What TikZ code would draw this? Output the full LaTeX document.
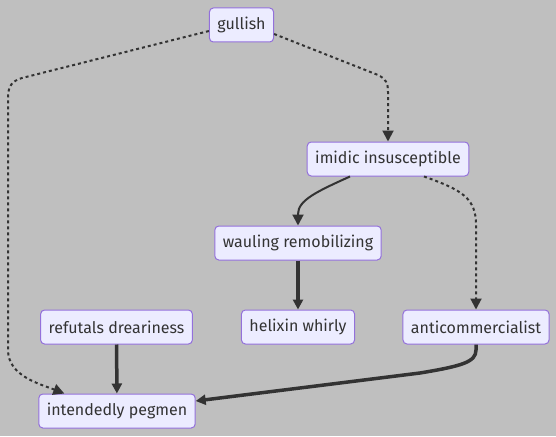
\documentclass[tikz,border=0pt]{standalone}
\usepackage{fontspec}
\setmainfont{Fira Sans}
\usetikzlibrary{arrows.meta}
\definecolor{bggray}{RGB}{191,191,191}
\definecolor{boxfill}{HTML}{ECECFF}
\definecolor{boxline}{HTML}{9370DB}
\definecolor{inkgray}{HTML}{333333}
\begin{document}
\begin{tikzpicture}[x=1pt, y=-1pt, node distance=84pt]
    % Styles
    \tikzstyle{nodebox} = [rectangle, draw=boxline, fill=boxfill, line width=1pt,
        rounded corners=4pt, minimum height=34pt, inner xsep=8pt, inner ysep=0pt,
        text=inkgray, font=\fontsize{16}{19}\selectfont]
    \tikzstyle{arrow} = [draw=inkgray, line width=2pt, -{Triangle[length=11pt,width=11pt]}]
    \tikzstyle{thickarrow} = [draw=inkgray, line width=3.5pt, -{Triangle[length=10pt,width=10pt]}]
    \tikzstyle{dotarrow} = [draw=inkgray, line width=2pt, dash pattern=on 3pt off 3pt,
        -{Triangle[length=11pt,width=11pt]}]

    % Background
    \fill [bggray] (0,0) rectangle (556,436);
    \useasboundingbox (0,0) rectangle (556,436);

    % === NODES ===
    \node [nodebox] (gullish) at (241.5,25) {gullish};
    \node [nodebox, below of=gullish, yshift=-50pt, xshift=146.5pt] (imidic) {imidic insusceptible};
    \node [nodebox, below of=imidic, xshift=-90pt] (wauling) {wauling remobilizing};
    \node [nodebox, below of=wauling] (helixin) {helixin whirly};
    \node [nodebox, right of=helixin, xshift=94pt] (anticomm) {anticommercialist};
    \node [nodebox, left of=helixin, xshift=-97.5pt] (refutals) {refutals dreariness};
    \node [nodebox, below of=refutals, xshift=0.5pt] (intendedly) {intendedly pegmen};

    % === ARROWS: dotted ===
    \draw [dotarrow] ([yshift=-9pt]gullish.east) -- (378,75)
        .. controls (386,79) and (388,83) .. (388,92) -- (imidic.north);
    \draw [dotarrow] ([yshift=-6pt]gullish.west) -- (22,78)
        .. controls (12,81) and (8,86) .. (8,98) -- (8,350)
        .. controls (8,376) and (40,384) .. ([xshift=26pt]intendedly.north west);
    \draw [dotarrow] ([xshift=36pt]imidic.south) .. controls (462,190) and (476,198) .. (476,225)
        -- (anticomm.north);

    % === ARROWS: solid ===
    \draw [arrow] ([xshift=-38pt]imidic.south) .. controls (318,191) and (298,200) .. (298,214)
        -- (wauling.north);
    \draw [thickarrow] (wauling) -- (helixin);
    \draw [thickarrow] (refutals) -- (intendedly);
    \draw [thickarrow] (anticomm.south) -- (476,350)
        .. controls (476,362) and (462,366) .. (420,373) -- ([yshift=10pt]intendedly.east);

\end{tikzpicture}
\end{document}
